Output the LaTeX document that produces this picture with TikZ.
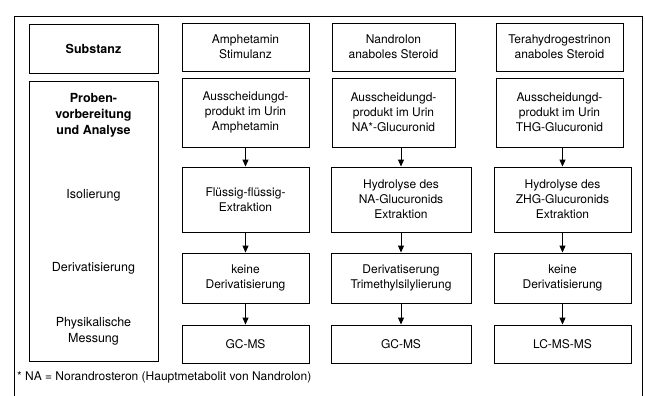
\documentclass[tikz,border=0pt]{standalone}
\usepackage{fontspec}
\setmainfont{TeX Gyre Heros}
\usetikzlibrary{arrows.meta}
\begin{document}
\begin{tikzpicture}[x=1pt,y=-1pt,
  box/.style={draw,line width=0.9pt,align=center,inner sep=2pt,
    font=\fontsize{12}{15}\selectfont},
  lbl/.style={align=center,inner sep=0pt,font=\fontsize{12.5}{16}\selectfont},
  arr/.style={line width=0.9pt,-{Triangle[length=7pt,width=6pt]}},
  frame/.style={line width=0.9pt}]
\useasboundingbox (0,0) rectangle (645,396);
% outer frame (open at the bottom)
\coordinate (fbl) at (14,396);
\coordinate (ftl) at (14,16);
\coordinate (ftr) at (642,16);
\coordinate (fbr) at (642,396);
\draw[frame] (fbl) -- (ftl) -- (ftr) -- (fbr);

% column 1
\node[box,minimum width=129pt,minimum height=49pt,font=\fontsize{12.5}{16}\bfseries] (c1a) at (93.5,48.5) {Substanz};
\node[box,minimum width=129pt,minimum height=280pt] (c1b) at (93.5,221) {};
\node[lbl,font=\fontsize{12.5}{16}\bfseries] (l1) at (93.5,115) {Proben-\\vorbereitung\\und Analyse};
\node[lbl] (l2) at (93.5,195) {Isolierung};
\node[lbl] (l3) at (93.5,268) {Derivatisierung};
\node[lbl] (l4) at (93.5,331) {Physikalische\\Messung};

% column 2
\node[box,minimum width=127pt,minimum height=48pt] (c2a) at (245.5,47) {Amphetamin\\Stimulanz};
\node[box,minimum width=127pt,minimum height=69pt] (c2b) at (245.5,112.5) {Ausscheidungd-\\produkt im Urin\\Amphetamin};
\node[box,minimum width=127pt,minimum height=65pt] (c2c) at (245.5,199.5) {Flüssig-flüssig-\\Extraktion};
\node[box,minimum width=127pt,minimum height=50pt] (c2d) at (245.5,278) {keine\\Derivatisierung};
\node[box,minimum width=127pt,minimum height=38pt] (c2e) at (245.5,344) {GC-MS};

% column 3
\node[box,minimum width=123pt,minimum height=48pt] (c3a) at (393.5,47) {Nandrolon\\anaboles Steroid};
\node[box,minimum width=123pt,minimum height=69pt] (c3b) at (393.5,112.5) {Ausscheidungd-\\produkt im Urin\\NA*-Glucuronid};
\node[box,minimum width=140pt,minimum height=65pt] (c3c) at (401,199.5) {Hydrolyse des\\NA-Glucuronids\\Extraktion};
\node[box,minimum width=140pt,minimum height=50pt] (c3d) at (401,278) {Derivatiserung\\Trimethylsilylierung};
\node[box,minimum width=140pt,minimum height=38pt] (c3e) at (401,344) {GC-MS};

% column 4
\node[box,minimum width=127pt,minimum height=48pt] (c4a) at (559.5,47) {Terahydrogestrinon\\anaboles Steroid};
\node[box,minimum width=127pt,minimum height=69pt] (c4b) at (559.5,112.5) {Ausscheidungd-\\produkt im Urin\\THG-Glucuronid};
\node[box,minimum width=137pt,minimum height=65pt] (c4c) at (562.5,199.5) {Hydrolyse des\\ZHG-Glucuronids\\Extraktion};
\node[box,minimum width=137pt,minimum height=50pt] (c4d) at (562.5,278) {keine\\Derivatisierung};
\node[box,minimum width=137pt,minimum height=38pt] (c4e) at (562.5,344) {LC-MS-MS};

% arrows
\draw[arr] (c2b) -- (c2c);
\draw[arr] (c2c) -- (c2d);
\draw[arr] (c2d) -- (c2e);
\draw[arr] (c3b.south -| c3c.north) -- (c3c.north);
\draw[arr] (c3c) -- (c3d);
\draw[arr] (c3d) -- (c3e);
\draw[arr] (c4b.south -| c4c.north) -- (c4c.north);
\draw[arr] (c4c) -- (c4d);
\draw[arr] (c4d) -- (c4e);

% footnote
\node[anchor=west,inner sep=0pt,font=\fontsize{12}{14}\selectfont] (fn) at (17,377) {* NA = Norandrosteron (Hauptmetabolit von Nandrolon)};
\end{tikzpicture}
\end{document}
